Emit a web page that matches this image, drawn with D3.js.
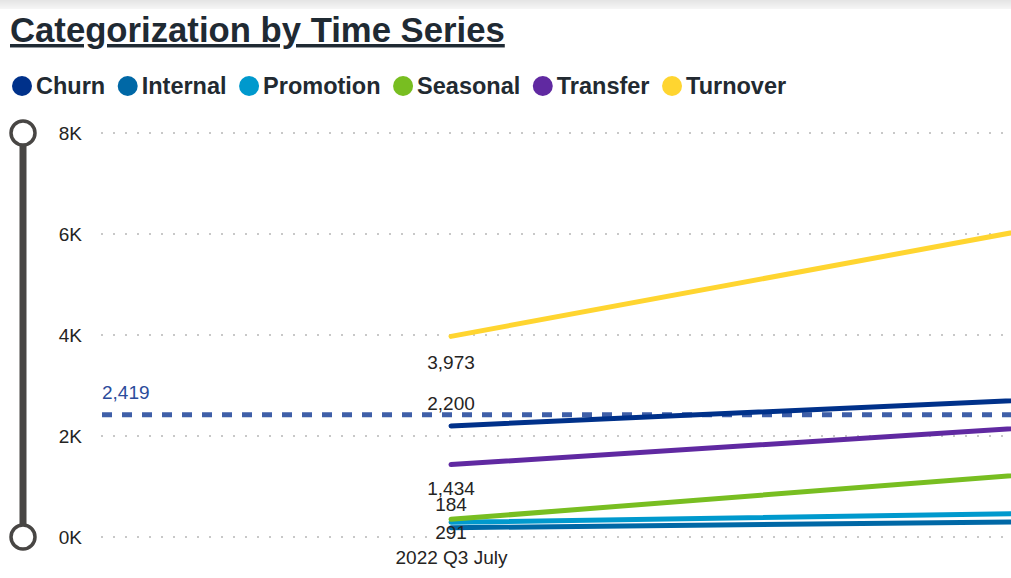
<!DOCTYPE html>
<html>
<head>
<meta charset="utf-8">
<script src="https://cdn.jsdelivr.net/npm/d3@7"></script>
<style>
  html, body { margin: 0; padding: 0; background: #fff; }
  svg { display: block; font-family: "Liberation Sans", Arial, sans-serif; }
</style>
</head>
<body>
<div id="chart"></div>
<script>
// chart data
const periods = ["2022 Q3 July", "2022 Q3 August"];
const seriesNames = ["Churn", "Internal", "Promotion", "Seasonal", "Transfer", "Turnover"];
const seriesColors = ["#00318A", "#0068A6", "#0099CD", "#78BE21", "#6029A1", "#FFD530"];
const churnValues = [2200, 2805];
const internalValues = [184, 321];
const promotionValues = [291, 498];
const seasonalValues = [350, 1400];
const transferValues = [1434, 2296];
const turnoverValues = [3973, 6462];
const averageValue = 2419;
const yTicks = [0, 2000, 4000, 6000, 8000];

const W = 1011, H = 578;

const svg = d3.select("#chart")
    .append("svg")
    .attr("width", W)
    .attr("height", H);

// top shadow strip
const defs = svg.append("defs");
const grad = defs.append("linearGradient")
    .attr("id", "topShade")
    .attr("x1", 0).attr("y1", 0).attr("x2", 0).attr("y2", 1);
grad.append("stop").attr("offset", "0%").attr("stop-color", "#e4e4e4");
grad.append("stop").attr("offset", "100%").attr("stop-color", "#f6f6f6");
svg.append("rect")
    .attr("x", 0).attr("y", 0)
    .attr("width", W).attr("height", 9)
    .attr("fill", "url(#topShade)");

// title
svg.append("text")
    .attr("x", 10)
    .attr("y", 42)
    .attr("fill", "#1f2a33")
    .style("font-size", "34.7px")
    .style("font-weight", "bold")
    .style("text-decoration", "underline")
    .text("Categorization by Time Series");

// legend
const legend = svg.append("g").attr("transform", "translate(0, 86)");
let lx = 12;
seriesNames.forEach((name, i) => {
    legend.append("circle")
        .attr("cx", lx + 10)
        .attr("cy", 0)
        .attr("r", 10)
        .attr("fill", seriesColors[i]);
    const t = legend.append("text")
        .attr("x", lx + 24)
        .attr("y", 8)
        .attr("fill", "#222a31")
        .style("font-size", "23.5px")
        .style("font-weight", "bold")
        .text(name);
    lx += 24 + t.node().getComputedTextLength() + 12.5;
});

// scales
const yScale = d3.scaleLinear()
    .domain([0, 8000])
    .range([537, 133]);

const xScale = d3.scalePoint()
    .domain(periods)
    .range([451, 1131]);

// slider on the left
const slider = svg.append("g");
slider.append("line")
    .attr("x1", 23).attr("x2", 23)
    .attr("y1", yScale(8000)).attr("y2", yScale(0))
    .attr("stroke", "#484644")
    .attr("stroke-width", 7);
[8000, 0].forEach(v => {
    slider.append("circle")
        .attr("cx", 23)
        .attr("cy", yScale(v))
        .attr("r", 12)
        .attr("fill", "#fff")
        .attr("stroke", "#484644")
        .attr("stroke-width", 3.5);
});

// y axis
const yAxis = svg.append("g")
    .attr("transform", "translate(82, 0)")
    .call(d3.axisLeft(yScale)
        .tickValues(yTicks)
        .tickSize(0)
        .tickPadding(0)
        .tickFormat(d => (d / 1000) + "K"));
yAxis.select(".domain").remove();
yAxis.selectAll("text")
    .attr("fill", "#252423")
    .style("font-size", "19px")
    .style("font-family", "'Liberation Sans', Arial, sans-serif");

// dotted gridlines
svg.append("g")
    .selectAll("line")
    .data(yTicks)
    .enter().append("line")
    .attr("x1", 101)
    .attr("x2", W)
    .attr("y1", d => yScale(d))
    .attr("y2", d => yScale(d))
    .attr("stroke", "#c8c8c8")
    .attr("stroke-width", 2)
    .attr("stroke-dasharray", "2 10");

// x axis (only the periods that fall inside the visible area get a label)
const xAxis = svg.append("g")
    .attr("transform", "translate(0, 550)")
    .call(d3.axisBottom(xScale)
        .tickValues(periods.filter(p => xScale(p) < W))
        .tickSize(0)
        .tickPadding(0));
xAxis.select(".domain").remove();
xAxis.selectAll("text")
    .attr("fill", "#252423")
    .attr("dy", "0.71em")
    .style("font-size", "19px")
    .style("font-family", "'Liberation Sans', Arial, sans-serif");

// average line
svg.append("line")
    .attr("x1", 102)
    .attr("x2", W)
    .attr("y1", yScale(averageValue))
    .attr("y2", yScale(averageValue))
    .attr("stroke", "#3f5fa8")
    .attr("stroke-width", 5)
    .attr("stroke-dasharray", "10 10");
svg.append("text")
    .attr("x", 102)
    .attr("y", yScale(averageValue) - 16)
    .attr("fill", "#2b4c9b")
    .style("font-size", "19px")
    .text(d3.format(",")(averageValue));

// series lines
const seriesValues = [churnValues, internalValues, promotionValues, seasonalValues, transferValues, turnoverValues];
const series = seriesNames.map((name, i) => ({
    name,
    color: seriesColors[i],
    points: periods.map((p, j) => ({ period: p, value: seriesValues[i][j] }))
}));

const line = d3.line()
    .x(d => xScale(d.period))
    .y(d => yScale(d.value));

svg.append("g")
    .selectAll("path")
    .data(series)
    .enter().append("path")
    .attr("d", d => line(d.points))
    .attr("fill", "none")
    .attr("stroke", d => d.color)
    .attr("stroke-width", 5)
    .attr("stroke-linecap", "round");

// data labels on the first point (offset from the point, seasonal label hidden by overlap)
const labelOffset = { Churn: -23, Internal: -23, Promotion: 10, Transfer: 24, Turnover: 26 };
svg.append("g")
    .selectAll("text")
    .data(series.filter(s => labelOffset[s.name] !== undefined))
    .enter().append("text")
    .attr("x", d => xScale(periods[0]))
    .attr("y", d => yScale(d.points[0].value) + labelOffset[d.name])
    .attr("dy", "0.35em")
    .attr("text-anchor", "middle")
    .attr("fill", "#252423")
    .style("font-size", "19px")
    .text(d => d3.format(",")(d.points[0].value));
</script>
</body>
</html>
